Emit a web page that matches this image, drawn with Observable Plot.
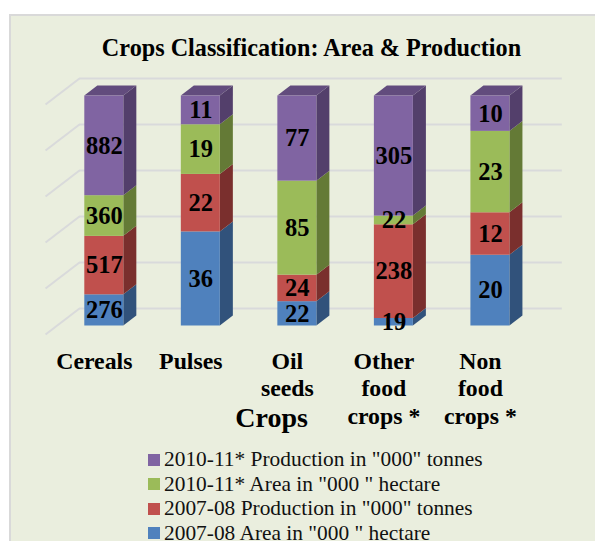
<!DOCTYPE html>
<html>
<head>
<meta charset="utf-8">
<script src="https://cdn.jsdelivr.net/npm/d3@7"></script>
<script src="https://cdn.jsdelivr.net/npm/@observablehq/plot@0.6"></script>
<style>
  html, body { margin: 0; padding: 0; background: #fff; overflow: hidden; }
  #panel { position: absolute; left: 9px; top: 14px; width: 586px; height: 527px; box-sizing: border-box;
           background: #EAEEDE; border-left: 2px solid #D9D9D9; border-top: 2px solid #D9D9D9; }
  #chart { position: absolute; left: 0; top: 0; }
  #chart svg { background: transparent; overflow: visible; }
  #title { position: absolute; left: 0; top: 34px; width: 623px; text-align: center;
           font: bold 24.2px "Liberation Serif", serif; color: #000; white-space: nowrap; }
  #legend { position: absolute; left: 148px; top: 447px; font: 21.4px "Liberation Serif", serif; color: #111; }
  .row { height: 24.6px; line-height: 24.6px; white-space: nowrap; position: relative; padding-left: 16px; }
  .row i { position: absolute; left: 0; top: 6.5px; width: 12px; height: 12px; }
</style>
</head>
<body>
<div id="panel"></div>
<div id="chart"></div>
<div id="title">Crops Classification: Area &amp; Production</div>
<div id="legend"></div>
<script>
const crops = ["Cereals", "Pulses", "Oil\nseeds", "Other\nfood\ncrops *", "Non\nfood\ncrops *"];
const series = [
  "2007-08 Area in \"000 \" hectare",
  "2007-08 Production in \"000\" tonnes",
  "2010-11* Area in \"000 \" hectare",
  "2010-11* Production in \"000\" tonnes"
];
const area0708 = [276, 36, 22, 19, 20];
const prod0708 = [517, 22, 24, 238, 12];
const area1011 = [360, 19, 85, 22, 23];
const prod1011 = [882, 11, 77, 305, 10];
const seriesValues = [area0708, prod0708, area1011, prod1011];
const frontColors = ["#4F81BD", "#C0504D", "#9BBB59", "#8064A2"];
const sideColors = ["#31527B", "#7A2F2D", "#647A36", "#533F6B"];
const topColor = "#624C7D";
const gridTicks = [0, 0.2, 0.4, 0.6, 0.8, 1];
const axisTicks = [0, 1, 2, 3, 4];

// Projection of the 3D look, in scale units
const halfBar = 0.202, depthX = 0.135, depthY = 0.0435;
const wallY = 0.0761, floorY = -0.037, gridLeft = -0.609, wallLeft = -0.257, wallRight = 4.745;

// Stack each crop to 100 %
const segments = [];
crops.forEach((crop, c) => {
  const total = d3.sum(seriesValues, v => v[c]);
  let acc = 0;
  seriesValues.forEach((v, s) => {
    const y1 = acc / total; acc += v[c];
    segments.push({c, s, value: v[c], y1, y2: acc / total});
  });
});

const sides = segments.flatMap(d => [
  {key: d.c + "-" + d.s, s: d.s, x: d.c + halfBar, y1: d.y1, y2: d.y2},
  {key: d.c + "-" + d.s, s: d.s, x: d.c + halfBar + depthX, y1: d.y1 + depthY, y2: d.y2 + depthY}
]);
const tops = crops.flatMap((crop, c) => [
  {c, x: c - halfBar, y1: 1, y2: 1},
  {c, x: c - halfBar + depthX, y1: 1, y2: 1 + depthY},
  {c, x: c + halfBar, y1: 1, y2: 1 + depthY},
  {c, x: c + halfBar + depthX, y1: 1 + depthY, y2: 1 + depthY}
]);

const plot = Plot.plot({
  width: 595, height: 440,
  marginLeft: 0, marginRight: 0, marginTop: 0, marginBottom: 114.5,
  x: {type: "linear", domain: [0, 4], range: [103.8, 489.9], axis: null},
  y: {type: "linear", domain: [0, 1], range: [325.5, 95.5], axis: null},
  marks: [
    Plot.ruleY(gridTicks, {y: d => d + wallY, x1: wallLeft, x2: wallRight, stroke: "#D9DADB", strokeWidth: 2}),
    Plot.link(gridTicks, {x1: gridLeft, x2: wallLeft, y1: d => d + floorY, y2: d => d + wallY, stroke: "#D9DADB", strokeWidth: 2}),
    Plot.areaY(sides, {x: "x", y1: "y1", y2: "y2", z: "key", fill: d => sideColors[d.s]}),
    Plot.areaY(tops, {x: "x", y1: "y1", y2: "y2", z: "c", fill: topColor}),
    Plot.rect(segments, {
      x1: d => d.c - halfBar, x2: d => d.c + halfBar, y1: "y1", y2: "y2",
      fill: d => frontColors[d.s], inset: 0
    }),
    Plot.text(segments, {
      x: d => d.c, y: d => (d.y1 + d.y2) / 2, text: "value",
      fontFamily: "Liberation Serif", fontWeight: "bold", fontSize: 24.5, fill: "#000"
    }),
    Plot.axisX({
      ticks: axisTicks, tickFormat: i => crops[i], tickSize: 0, tickPadding: 23, dx: -10, label: null,
      fontFamily: "Liberation Serif", fontWeight: "bold", fontSize: 23.8, lineHeight: 1.16, fill: "#000"
    }),
    Plot.text(["Crops"], {
      x: 1.733, y: -0.402, text: d => d,
      fontFamily: "Liberation Serif", fontWeight: "bold", fontSize: 28, fill: "#000"
    })
  ]
});
document.getElementById("chart").appendChild(plot);

const legend = document.getElementById("legend");
[3, 2, 1, 0].forEach(s => {
  const row = document.createElement("div");
  row.className = "row";
  const sw = document.createElement("i");
  sw.style.background = frontColors[s];
  row.appendChild(sw);
  row.appendChild(document.createTextNode(series[s]));
  legend.appendChild(row);
});
</script>
</body>
</html>
